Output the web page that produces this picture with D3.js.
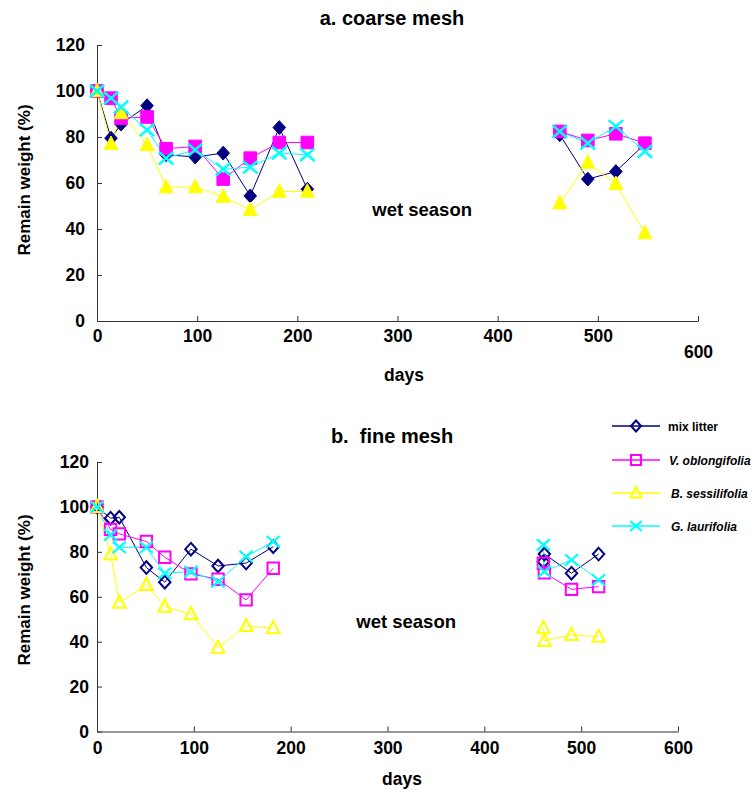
<!DOCTYPE html>
<html>
<head>
<meta charset="utf-8">
<script src="https://cdn.jsdelivr.net/npm/d3@7/dist/d3.min.js"></script>
<style>
  html, body { margin: 0; padding: 0; background: #fff; }
  svg { display: block; }
  text { font-family: "Liberation Sans", Arial, sans-serif; font-weight: bold; fill: #000; }
</style>
</head>
<body>
<svg id="chart" width="755" height="790"></svg>
<script>
// ---------- data ----------
const seriesNames = ["mix litter", "V. oblongifolia", "B. sessilifolia", "G. laurifolia"];
const xTicks = [0, 100, 200, 300, 400, 500, 600];
const yTicks = [0, 20, 40, 60, 80, 100, 120];

// a. coarse mesh
const daysA1 = [0, 14, 24, 50, 69, 98, 126, 153, 182, 210];
const daysA2 = [462, 490, 518, 547];
const mixA1 = [100, 79.5, 85.6, 93.6, 72.3, 71.3, 73.0, 54.4, 84.1, 57.3];
const mixA2 = [81.0, 61.7, 65.0, 77.0];
const vobA1 = [100, 96.9, 88.2, 88.7, 74.9, 75.9, 61.7, 70.8, 77.6, 77.6];
const vobA2 = [82.4, 78.5, 81.4, 77.3];
const bseA1 = [100, 77.0, 90.4, 76.6, 58.2, 58.2, 54.1, 48.3, 56.3, 56.3];
const bseA2 = [51.2, 68.9, 59.6, 38.2];
const glaA1 = [100, 96.9, 93.0, 83.1, 70.8, 74.4, 66.0, 66.9, 73.0, 72.3];
const glaA2 = [82.4, 77.3, 84.6, 73.7];

// b. fine mesh
const daysB1 = [0, 14, 23, 51, 70, 97, 125, 154, 182];
const daysB2 = [461, 462, 490, 518];
const mixB1 = [100, 95.0, 95.4, 73.0, 66.5, 81.2, 73.7, 75.0, 82.3];
const mixB2 = [75.6, 79.0, 70.5, 79.0];
const vobB1 = [100, 90.0, 88.0, 84.6, 77.6, 70.2, 67.8, 58.6, 72.7];
const vobB2 = [74.9, 70.7, 63.3, 64.5];
const bseB1 = [100, 78.9, 57.4, 65.3, 55.6, 52.3, 37.3, 47.0, 46.0];
const bseB2 = [46.0, 40.4, 43.0, 42.2];
const glaB1 = [100, 87.5, 82.0, 82.0, 70.5, 71.2, 66.7, 77.9, 84.5];
const glaB2 = [83.1, 71.2, 76.4, 67.5];

// ---------- styles ----------
const colors = ["#000080", "#ff00ff", "#ffff00", "#00ffff"];
const shapes = ["diamond", "square", "triangle", "cross"];

const svg = d3.select("#chart");

function markerPath(shape, s) {
  const p = d3.path();
  if (shape === "diamond") {
    p.moveTo(0, -s * 1.1); p.lineTo(s, 0); p.lineTo(0, s * 1.1); p.lineTo(-s, 0); p.closePath();
  } else if (shape === "square") {
    p.rect(-s, -s, 2 * s, 2 * s);
  } else if (shape === "triangle") {
    p.moveTo(0, -s * 1.25); p.lineTo(s * 1.1, s * 0.9); p.lineTo(-s * 1.1, s * 0.9); p.closePath();
  } else {
    p.moveTo(-s * 1.15, -s); p.lineTo(s * 1.15, s);
    p.moveTo(s * 1.15, -s); p.lineTo(-s * 1.15, s);
  }
  return p.toString();
}

function drawMarker(g, shape, color, cx, cy, filled, s) {
  const el = g.append("path")
    .attr("d", markerPath(shape, s))
    .attr("transform", `translate(${cx},${cy})`);
  if (shape === "cross") {
    el.attr("fill", "none").attr("stroke", color).attr("stroke-width", filled ? 2.5 : 2.2);
  } else if (filled) {
    el.attr("fill", color).attr("stroke", color).attr("stroke-width", 1);
  } else {
    el.attr("fill", "none").attr("stroke", color).attr("stroke-width", 2);
  }
}

function drawPanel(cfg) {
  const x = d3.scaleLinear().domain([0, 600]).range([cfg.x0, cfg.x1]);
  const y = d3.scaleLinear().domain([0, 120]).range([cfg.y0, cfg.y1]);
  const g = svg.append("g");

  // axes
  const xa = g.append("g").attr("transform", `translate(0,${cfg.y0})`)
    .call(d3.axisBottom(x).tickValues(xTicks).tickFormat(d3.format("d"))
      .tickSize(-5).tickSizeOuter(0).tickPadding(cfg.xPad));
  const ya = g.append("g").attr("transform", `translate(${cfg.x0},0)`)
    .call(d3.axisLeft(y).tickValues(yTicks).tickFormat(d3.format("d"))
      .tickSize(-5).tickSizeOuter(0).tickPadding(cfg.yPad));
  [xa, ya].forEach(a => {
    a.selectAll("path.domain").attr("stroke", "#333").attr("stroke-width", 1);
    a.selectAll(".tick line").attr("stroke", "#333").attr("stroke-width", 1);
    a.selectAll("text").attr("font-size", 17.5)
      .attr("font-family", "'Liberation Sans', Arial, sans-serif")
      .attr("font-weight", "bold").attr("fill", "#000");
  });
  if (cfg.lift600) {
    xa.selectAll(".tick").filter(d => d === 600).select("text").attr("dy", "1.6em");
  }

  // series
  cfg.series.forEach((s, i) => {
    const line = d3.line().x(d => x(d[0])).y(d => y(d[1]));
    s.forEach(seg => {
      const pts = seg.days.map((d, j) => [d, seg.vals[j]]);
      g.append("path").attr("d", line(pts)).attr("fill", "none")
        .attr("stroke", colors[i]).attr("stroke-width", 1);
    });
  });
  cfg.series.forEach((s, i) => {
    s.forEach(seg => {
      seg.days.forEach((d, j) => {
        drawMarker(g, shapes[i], colors[i], x(d), y(seg.vals[j]), cfg.filled, cfg.filled ? 6.3 : 5.7);
      });
    });
  });

  // labels
  g.append("text").attr("x", cfg.titleX).attr("y", cfg.titleY).attr("text-anchor", "middle")
    .attr("font-size", 20).style("white-space", "pre").text(cfg.title);
  g.append("text").attr("x", cfg.daysX).attr("y", cfg.daysY).attr("text-anchor", "middle")
    .attr("font-size", 17.5).text("days");
  g.append("text").attr("transform", `translate(${cfg.ylabX},${cfg.ylabY}) rotate(-90)`)
    .attr("text-anchor", "middle").attr("font-size", 17).text("Remain weight (%)");
  g.append("text").attr("x", cfg.wetX).attr("y", cfg.wetY).attr("text-anchor", "end")
    .attr("font-size", 18.5).text("wet season");
}

drawPanel({
  x0: 97, x1: 698, y0: 321, y1: 45, xPad: 9, yPad: 12, filled: true, lift600: true,
  title: "a. coarse mesh", titleX: 392, titleY: 25,
  daysX: 404, daysY: 381, ylabX: 30, ylabY: 180, wetX: 472, wetY: 216,
  series: [
    [{ days: daysA1, vals: mixA1 }, { days: daysA2, vals: mixA2 }],
    [{ days: daysA1, vals: vobA1 }, { days: daysA2, vals: vobA2 }],
    [{ days: daysA1, vals: bseA1 }, { days: daysA2, vals: bseA2 }],
    [{ days: daysA1, vals: glaA1 }, { days: daysA2, vals: glaA2 }]
  ]
});

drawPanel({
  x0: 97, x1: 678, y0: 731.5, y1: 462, xPad: 10, yPad: 8, filled: false, lift600: false,
  title: "b.\u00a0 fine mesh", titleX: 392, titleY: 443,
  daysX: 402, daysY: 785, ylabX: 30, ylabY: 590, wetX: 456, wetY: 628,
  series: [
    [{ days: daysB1, vals: mixB1 }, { days: daysB2, vals: mixB2 }],
    [{ days: daysB1, vals: vobB1 }, { days: daysB2, vals: vobB2 }],
    [{ days: daysB1, vals: bseB1 }, { days: daysB2, vals: bseB2 }],
    [{ days: daysB1, vals: glaB1 }, { days: daysB2, vals: glaB2 }]
  ]
});

// legend
const legendY = [426, 460, 493, 526];
const legendTextX = [668, 669, 671, 671];
const leg = svg.append("g");
seriesNames.forEach((name, i) => {
  leg.append("line").attr("x1", 612).attr("x2", 660).attr("y1", legendY[i]).attr("y2", legendY[i])
    .attr("stroke", colors[i]).attr("stroke-width", 1.5);
  drawMarker(leg, shapes[i], colors[i], 636, legendY[i], false, 5);
  leg.append("text").attr("x", legendTextX[i]).attr("y", legendY[i] + 4.5)
    .attr("font-size", 12).attr("font-style", i === 0 ? "normal" : "italic").text(name);
});
</script>
</body>
</html>
